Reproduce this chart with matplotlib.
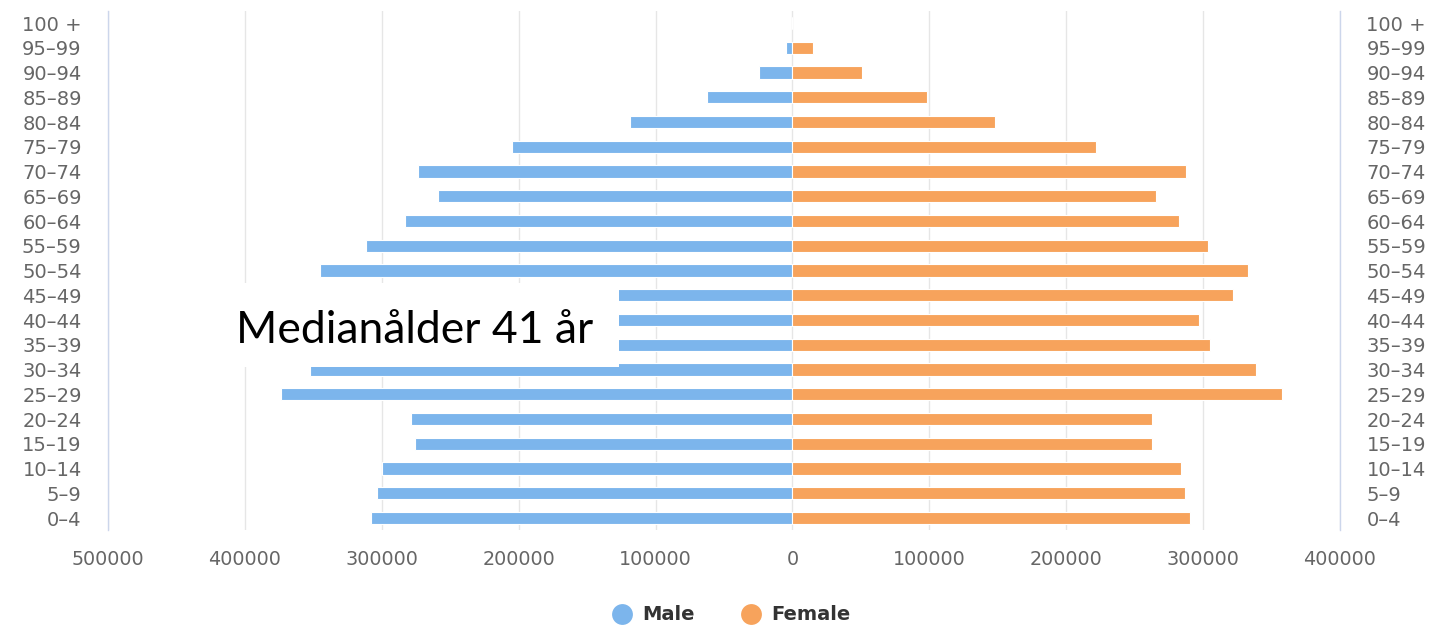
import matplotlib
matplotlib.use("Agg")
import matplotlib.pyplot as plt
from matplotlib.lines import Line2D
from matplotlib.patches import Rectangle
from matplotlib.ticker import FuncFormatter

# age groups, youngest first (bottom of the pyramid)
age_groups = ["0–4", "5–9", "10–14", "15–19", "20–24", "25–29", "30–34",
              "35–39", "40–44", "45–49", "50–54", "55–59", "60–64", "65–69",
              "70–74", "75–79", "80–84", "85–89", "90–94", "95–99", "100 +"]

# population counts (male 35-49 partly hidden by the label box)
male = [307700, 303600, 299600, 276000, 278600, 373900, 352600,
        312000, 305000, 330000, 345000, 311800, 283000, 259000,
        273800, 205000, 119000, 62600, 24100, 4600, 0]
female = [290600, 286500, 283600, 262600, 262600, 357500, 339000,
          305000, 297000, 322000, 332500, 303700, 282500, 265300,
          287600, 222000, 148000, 98200, 50700, 15100, 0]

x_ticks = [-500000, -400000, -300000, -200000, -100000, 0, 100000, 200000, 300000, 400000]

MALE_COLOR = "#7cb5ec"
FEMALE_COLOR = "#f7a35c"
LABEL_COLOR = "#666666"

fig = plt.figure(figsize=(14.33, 6.26), dpi=100)
ax = fig.add_axes([0.0754, 0.1527, 0.8597, 0.8303])

pos = range(len(age_groups))
ax.barh(pos, [-v for v in male], height=0.5, color=MALE_COLOR,
        edgecolor="white", linewidth=0.8, zorder=3)
ax.barh(pos, female, height=0.5, color=FEMALE_COLOR,
        edgecolor="white", linewidth=0.8, zorder=3)

ax.set_xlim(-500000, 400000)
ax.set_ylim(-0.5, len(age_groups) - 0.5)
ax.set_xticks(x_ticks)
ax.xaxis.set_major_formatter(FuncFormatter(lambda v, _: f"{abs(int(v))}"))
ax.set_yticks(list(pos))
ax.set_yticklabels(age_groups)

ax.grid(axis="x", color="#e6e6e6", linewidth=1, zorder=0)
ax.set_axisbelow(True)

for side in ["top", "bottom"]:
    ax.spines[side].set_visible(False)
for side in ["left", "right"]:
    ax.spines[side].set_color("#ccd6eb")
    ax.spines[side].set_linewidth(1)

ax.tick_params(axis="y", length=0, pad=19, labelsize=14, labelcolor=LABEL_COLOR,
               labelleft=True, labelright=True)
ax.tick_params(axis="x", length=0, pad=14, labelsize=13.8, labelcolor=LABEL_COLOR)

# white label box covering part of the male side
ax.add_patch(Rectangle((0.095, 0.3144), 0.3198, 0.1616, transform=ax.transAxes,
                       facecolor="white", edgecolor="none", zorder=5, clip_on=False))
ax.text(0.249, 0.3605, "Medianålder 41 år", transform=ax.transAxes,
        ha="center", va="baseline", fontsize=32, family="Lato", color="black", zorder=6)

handles = [
    Line2D([], [], marker="o", linestyle="none", markersize=15,
           markerfacecolor=MALE_COLOR, markeredgecolor="none", label="Male"),
    Line2D([], [], marker="o", linestyle="none", markersize=15,
           markerfacecolor=FEMALE_COLOR, markeredgecolor="none", label="Female"),
]
leg = fig.legend(handles=handles, loc="center", bbox_to_anchor=(0.5069, 0.0176),
                 ncol=2, frameon=False, handletextpad=0.05, columnspacing=1.86,
                 prop={"weight": "bold", "size": 14})
for t in leg.get_texts():
    t.set_color("#333333")

fig.savefig("out.png", dpi=100)
